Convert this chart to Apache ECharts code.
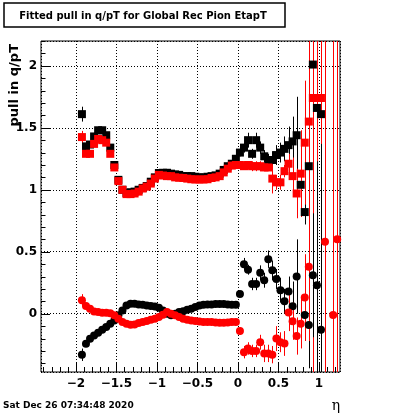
<!DOCTYPE html>
<html><head><meta charset="utf-8">
<script src="https://cdn.jsdelivr.net/npm/echarts@6/dist/echarts.min.js"></script>
<style>html,body{margin:0;padding:0;background:#fff}#c{width:400px;height:414px}</style>
</head><body><div id="c"></div>
<script>
// ---- data ----
const eta = [-1.925,-1.875,-1.825,-1.775,-1.725,-1.675,-1.625,-1.575,-1.525,-1.475,
-1.425,-1.375,-1.325,-1.275,-1.225,-1.175,-1.125,-1.075,-1.025,-0.975,
-0.925,-0.875,-0.825,-0.775,-0.725,-0.675,-0.625,-0.575,-0.525,-0.475,
-0.425,-0.375,-0.325,-0.275,-0.225,-0.175,-0.125,-0.075,-0.025,0.025,
0.075,0.125,0.175,0.225,0.275,0.325,0.375,0.425,0.475,0.525,
0.575,0.625,0.675,0.725,0.775,0.825,0.875,0.925,0.975,1.025,
1.075,1.125,1.175,1.225];

const sigBlack = [1.61,1.35,1.365,1.43,1.48,1.48,1.44,1.34,1.20,1.08,
1.00,0.975,0.98,0.985,1.00,1.015,1.03,1.065,1.10,1.135,
1.137,1.137,1.13,1.124,1.12,1.11,1.11,1.11,1.105,1.10,
1.10,1.105,1.11,1.116,1.13,1.16,1.19,1.21,1.25,1.30,
1.34,1.40,1.29,1.40,1.34,1.27,1.23,1.24,1.28,1.30,
1.33,1.36,1.39,1.44,1.04,0.82,1.19,2.01,1.66,1.61,
null,null,null,null];
const sigBlackErr = [0.06,0.02,0.02,0.02,0.02,0.02,0.02,0.02,0.02,0.01,
0.01,0.01,0.01,0.01,0.01,0.01,0.01,0.01,0.01,0.01,
0.01,0.01,0.01,0.01,0.01,0.01,0.01,0.01,0.01,0.01,
0.01,0.01,0.01,0.01,0.01,0.01,0.01,0.01,0.02,0.03,
0.04,0.06,0.04,0.06,0.05,0.05,0.06,0.07,0.08,0.08,
0.10,0.15,0.20,0.31,0.12,0.10,0.30,1.20,2.00,2.00,
0,0,0,0];

const sigRed = [1.425,1.29,1.29,1.37,1.41,1.40,1.38,1.29,1.18,1.07,
1.00,0.965,0.965,0.97,0.985,1.01,1.025,1.05,1.09,1.12,
1.115,1.11,1.11,1.10,1.097,1.095,1.09,1.085,1.083,1.083,
1.083,1.085,1.095,1.10,1.11,1.14,1.17,1.195,1.20,1.20,
1.19,1.20,1.19,1.19,1.19,1.18,1.18,1.09,1.06,1.06,
1.15,1.21,1.11,0.97,1.13,1.38,1.55,1.74,1.74,1.74,
null,null,null,null];
const sigRedErr = [0.05,0.02,0.02,0.02,0.02,0.02,0.02,0.02,0.02,0.01,
0.01,0.01,0.01,0.01,0.01,0.01,0.01,0.01,0.01,0.01,
0.01,0.01,0.01,0.01,0.01,0.01,0.01,0.01,0.01,0.01,
0.01,0.01,0.01,0.01,0.01,0.01,0.01,0.01,0.02,0.03,
0.03,0.03,0.04,0.04,0.04,0.03,0.03,0.12,0.06,0.06,
0.05,0.08,0.15,0.20,0.35,0.50,0.80,3.0,3.0,3.0,
0,0,0,0];

const muBlack = [-0.331,-0.242,-0.202,-0.175,-0.153,-0.129,-0.108,-0.081,-0.054,-0.013,
0.027,0.067,0.081,0.081,0.075,0.073,0.067,0.062,0.059,0.048,
0.027,0.0,-0.013,0.0,0.013,0.021,0.032,0.040,0.054,0.067,
0.073,0.075,0.075,0.078,0.078,0.078,0.075,0.073,0.073,0.16,
0.40,0.355,0.24,0.24,0.33,0.27,0.44,0.35,0.28,0.19,
0.10,0.18,0.06,0.30,null,-0.01,-0.09,0.31,0.23,-0.13,
null,null,null,null];
const muBlackErr = [0.05,0.02,0.02,0.02,0.01,0.01,0.01,0.01,0.01,0.01,
0.01,0.01,0.01,0.01,0.01,0.01,0.01,0.01,0.01,0.01,
0.01,0.01,0.01,0.01,0.01,0.01,0.01,0.01,0.01,0.01,
0.01,0.01,0.01,0.01,0.01,0.01,0.01,0.01,0.01,0.02,
0.05,0.04,0.05,0.05,0.06,0.06,0.07,0.08,0.08,0.10,
0.10,0.12,0.20,0.30,0,0.20,0.35,0.50,1.00,1.50,
0,0,0,0];

const muRed = [0.108,0.062,0.040,0.019,0.013,0.008,0.008,0.003,-0.013,-0.040,
-0.067,-0.081,-0.089,-0.086,-0.075,-0.067,-0.059,-0.048,-0.040,-0.027,
-0.008,0.013,0.0,-0.013,-0.027,-0.040,-0.048,-0.054,-0.059,-0.062,
-0.067,-0.067,-0.067,-0.070,-0.073,-0.073,-0.070,-0.067,-0.067,-0.14,
-0.31,-0.28,-0.30,-0.30,-0.23,-0.32,-0.32,-0.33,-0.20,-0.23,
-0.24,0.01,-0.06,-0.18,-0.08,0.13,0.38,null,null,null,
0.58,null,-0.01,0.60];
const muRedErr = [0.05,0.02,0.02,0.02,0.01,0.01,0.01,0.01,0.01,0.01,
0.01,0.01,0.01,0.01,0.01,0.01,0.01,0.01,0.01,0.01,
0.01,0.01,0.01,0.01,0.01,0.01,0.01,0.01,0.01,0.01,
0.01,0.01,0.01,0.01,0.01,0.01,0.01,0.01,0.01,0.03,
0.05,0.05,0.05,0.05,0.06,0.07,0.07,0.07,0.10,0.08,
0.10,0.15,0.15,0.15,0.20,0.35,0.60,0,0,0,
3.0,0,3.0,3.0];

const xMajorTicks = [-2,-1.5,-1,-0.5,0,0.5,1];
const xMinorTicks = [-2.4,-2.3,-2.2,-2.1,-1.9,-1.8,-1.7,-1.6,-1.4,-1.3,-1.2,-1.1,-0.9,-0.8,-0.7,-0.6,-0.4,-0.3,-0.2,-0.1,0.1,0.2,0.3,0.4,0.6,0.7,0.8,0.9,1.1,1.2];
const yMajorTicks = [0,0.5,1,1.5,2];
const yMinorTicks = [-0.4,-0.3,-0.2,-0.1,0.1,0.2,0.3,0.4,0.6,0.7,0.8,0.9,1.1,1.2,1.3,1.4,1.6,1.7,1.8,1.9,2.1,2.2];

const X_MIN = -2.43, X_MAX = 1.26, Y_MIN = -0.47, Y_MAX = 2.2;
const titleText = 'Fitted pull in q/pT for Global Rec Pion EtapT';
const yTitle = 'pull in q/pT';
const xTitle = 'η';
const dateText = 'Sat Dec 26 07:34:48 2020';

// ---- helpers ----
const FONT = '"DejaVu Sans", sans-serif';
function pts(vals){ return eta.map((e,i)=> vals[i]==null?null:[e, vals[i]]).filter(Boolean); }
function errPts(vals, errs){ return eta.map((e,i)=> (vals[i]==null||!errs[i])?null:[e, vals[i], errs[i]]).filter(Boolean); }
function crisp(v){ return Math.round(v) + 0.5; }
function errSeries(vals, errs, color){
  return {
    type:'custom', silent:true, data: errPts(vals, errs), encode:{x:0, y:1},
    renderItem: function(params, api){
      const x = api.value(0), v = api.value(1), e = api.value(2);
      const lo = Math.max(Y_MIN, v - e), hi = Math.min(Y_MAX, v + e);
      if (lo >= hi) return null;
      const p1 = api.coord([x, lo]), p2 = api.coord([x, hi]);
      const px = crisp(p1[0]);
      return {type:'line', shape:{x1:px, y1:p1[1], x2:px, y2:p2[1]}, style:{stroke:color, lineWidth:1}};
    }
  };
}
function markSeries(vals, color, symbol){
  return {type:'scatter', silent:true, data: pts(vals), symbol: symbol, symbolSize: 8,
    itemStyle:{color: color, opacity:1}, emphasis:{disabled:true}};
}
const tickSeries = {
  type:'custom', silent:true, data:[[0,0]], encode:{x:0,y:1}, z:10,
  renderItem: function(params, api){
    const children = [];
    function xt(v, len){
      const p = api.coord([v, Y_MIN]); const px = crisp(p[0]);
      children.push({type:'line', shape:{x1:px, y1:p[1], x2:px, y2:p[1]-len}, style:{stroke:'#000', lineWidth:1}});
    }
    function yt(v, len){
      const p = api.coord([X_MIN, v]); const py = crisp(p[1]);
      children.push({type:'line', shape:{x1:p[0], y1:py, x2:p[0]+len, y2:py}, style:{stroke:'#000', lineWidth:1}});
    }
    xMajorTicks.forEach(v=>xt(v, 10)); xMinorTicks.forEach(v=>xt(v, 5));
    yMajorTicks.forEach(v=>yt(v, 9)); yMinorTicks.forEach(v=>yt(v, 4.5));
    return {type:'group', children: children};
  }
};
const fmt = v => (v < 0 ? '\u2212' + String(-v) : String(v));

const chart = echarts.init(document.getElementById('c'), null, {renderer:'canvas'});
chart.setOption({
  animation:false,
  backgroundColor:'#fff',
  grid:{left:41, top:41, right:60, bottom:42, show:true, borderColor:'#000', borderWidth:1, backgroundColor:'#fff'},
  xAxis:{type:'value', min:X_MIN, max:X_MAX, splitNumber:8,
    axisLine:{show:false}, axisTick:{show:false},
    axisLabel:{formatter:fmt, showMinLabel:false, showMaxLabel:false, color:'#000', fontFamily:FONT, fontWeight:'bold', fontSize:12, margin:6},
    splitLine:{show:true, lineStyle:{color:'#000', type:[1,2], width:1}}},
  yAxis:{type:'value', min:Y_MIN, max:Y_MAX, splitNumber:5,
    axisLine:{show:false}, axisTick:{show:false},
    axisLabel:{formatter:fmt, showMinLabel:false, showMaxLabel:false, color:'#000', fontFamily:FONT, fontWeight:'bold', fontSize:12, margin:4},
    splitLine:{show:true, lineStyle:{color:'#000', type:[1,2], width:1}}},
  series:[
    errSeries(sigBlack, sigBlackErr, '#000'), markSeries(sigBlack, '#000', 'rect'),
    errSeries(sigRed, sigRedErr, '#f00'), markSeries(sigRed, '#f00', 'rect'),
    errSeries(muBlack, muBlackErr, '#000'), markSeries(muBlack, '#000', 'circle'),
    errSeries(muRed, muRedErr, '#f00'), markSeries(muRed, '#f00', 'circle'),
    tickSeries
  ],
  graphic:[
    {type:'rect', shape:{x:4, y:3, width:281, height:24}, style:{fill:'#fff', stroke:'#000', lineWidth:1.5}},
    {type:'text', x:143, y:16, style:{text:titleText, fill:'#000', font:'bold 10px ' + FONT, align:'center', verticalAlign:'middle'}},
    {type:'text', x:15, y:44, rotation:Math.PI/2, style:{text:yTitle, fill:'#000', font:'bold 13px ' + FONT, align:'right', verticalAlign:'middle'}},
    {type:'text', x:3, y:406, style:{text:dateText, fill:'#000', font:'bold 9px ' + FONT, align:'left', verticalAlign:'middle'}},
    {type:'text', x:336, y:406, style:{text:xTitle, fill:'#000', font:'14px "DejaVu Serif", serif', align:'center', verticalAlign:'middle'}}
  ]
});
</script>
</body></html>
